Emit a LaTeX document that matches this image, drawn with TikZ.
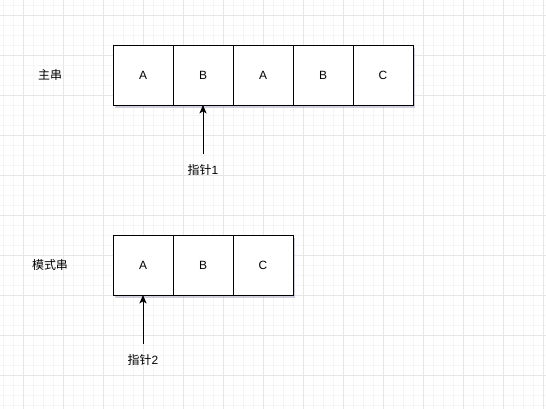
\documentclass[tikz,border=0pt]{standalone}
\usepackage{fontspec}
\setmainfont{Liberation Sans}
\newfontfamily\cjk{Noto Sans CJK SC}
\usetikzlibrary{positioning,shadows,arrows.meta}
\definecolor{gridmajor}{HTML}{E6E6E6}
\definecolor{gridminor}{HTML}{F5F5F5}
\definecolor{shade}{HTML}{8A8AA8}
\tikzset{
  cell/.style={draw=black,semithick,fill=white,minimum size=1.5cm,inner sep=0pt,outer sep=0pt,
    font=\fontsize{8.5}{10}\selectfont,
    drop shadow={opacity=0.4,fill=shade,shadow xshift=0.05cm,shadow yshift=-0.07cm}},
  tag/.style={font=\cjk\fontsize{8.5}{10}\selectfont,inner sep=0.25cm},
  pointer/.style={semithick,-{Stealth[length=6pt,width=5pt,inset=1.5pt]}}
}
\begin{document}
\begin{tikzpicture}[node distance=0cm]
 \useasboundingbox (0,0) rectangle (13.65,-10.225);
 \begin{scope}[shift={(0.575,-0.375)}]
 \draw [step=0.25cm,gridminor,very thin](-1,-10) grid (14,1); 
 \draw [step=1cm,gridmajor,thin](-1,-10) grid (14,1); 
 \end{scope}
 % main string
 \node[tag] (mainlbl) at (1.25,-1.875) {主串};
 \node[cell] (m1) at (3.575,-1.875) {A};
 \node[cell,right=of m1] (m2) {B};
 \node[cell,right=of m2] (m3) {A};
 \node[cell,right=of m3] (m4) {B};
 \node[cell,right=of m4] (m5) {C};
 % pattern
 \node[tag] (patlbl) at (1.25,-6.625) {模式串};
 \node[cell] (p1) at (3.575,-6.625) {A};
 \node[cell,right=of p1] (p2) {B};
 \node[cell,right=of p2] (p3) {C};
 % pointers
 \node[tag] (ptr1) at (5.075,-4.25) {指针\fontspec{Liberation Sans}1};
 \node[tag] (ptr2) at (3.575,-9.0) {指针\fontspec{Liberation Sans}2};
 \draw[pointer] (ptr1.north) -- (ptr1.north |- m2.south);
 \draw[pointer] (ptr2.north) -- (ptr2.north |- p1.south);
\end{tikzpicture}
\end{document}
